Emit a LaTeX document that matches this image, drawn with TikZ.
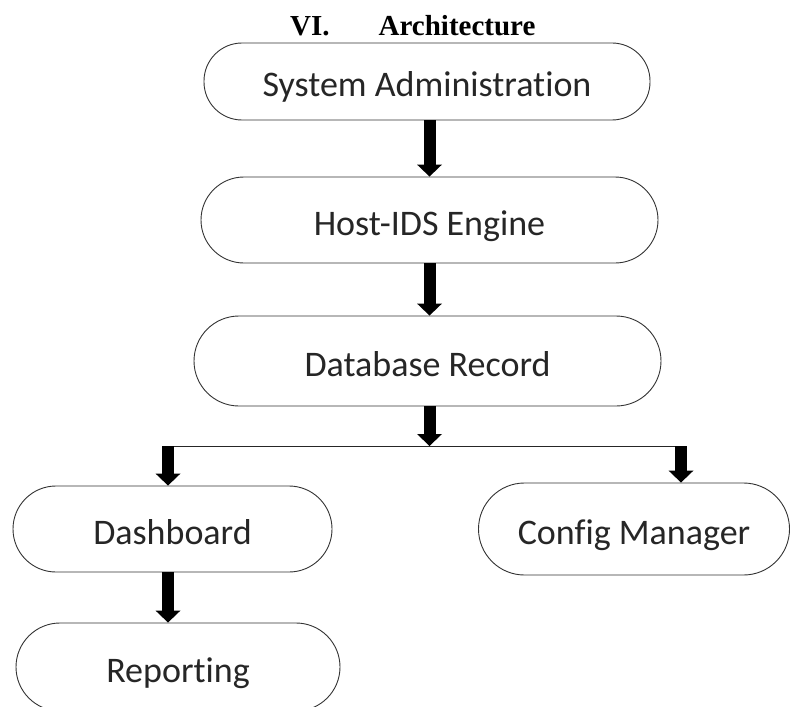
\documentclass[tikz,border=0pt]{standalone}
\usepackage{fontspec}
\setmainfont{Carlito}[Ligatures=NoCommon]
\newfontfamily\titlefont{Liberation Serif}
\usetikzlibrary{arrows.meta}
\tikzset{
  pill/.style={draw=black!80, line width=0.9pt, fill=white, rectangle, inner sep=0pt,
    font=\fontsize{36}{42}\selectfont, text=black!85, text height=36pt, text depth=6pt},
  blk/.style={draw=black, line width=12pt, -{Triangle[width=25pt,length=12pt,line width=0pt]}},
  thin/.style={draw=black!85, line width=1pt}
}
\begin{document}
\begin{tikzpicture}[x=1pt,y=1pt]
\useasboundingbox (0,0) rectangle (791,-706);
\clip (0,0) rectangle (791,-706);
\node[anchor=base west, inner sep=0pt, font=\titlefont\bfseries\fontsize{29}{34}\selectfont] (title) at (290,-36) {VI.\hspace{49pt}Architecture};
\node[pill, minimum width=446pt, minimum height=77pt, rounded corners=38pt] (b1) at (427,-81.5) {System Administration};
\node[pill, minimum width=457pt, minimum height=86pt, rounded corners=43pt] (b2) at (429.5,-220) {Host-IDS Engine};
\node[pill, minimum width=467pt, minimum height=90pt, rounded corners=45pt] (b3) at (427.5,-361) {Database Record};
\node[pill, minimum width=319pt, minimum height=86pt, rounded corners=43pt] (dash) at (172.5,-529) {Dashboard};
\node[pill, minimum width=311pt, minimum height=92pt, rounded corners=46pt] (conf) at (634,-529) {Config Manager};
\node[pill, minimum width=324pt, minimum height=88pt, rounded corners=44pt] (rep) at (178,-667) {Reporting};
\coordinate (jl) at (168,-446);
\coordinate (jr) at (681,-446);
\draw[blk] (b2.north |- b1.south) -- (b2.north);
\draw[blk] (b2.south) -- (b2.south |- b3.north);
\draw[thin] (jl) -- (jr);
\draw[blk] (b2.south |- b3.south) -- (b2.south |- jl);
\draw[blk] (jl) -- (jl |- dash.north);
\draw[blk] (jr) -- (jr |- conf.north);
\draw[blk] (dash.south -| jl) -- (jl |- rep.north);
\end{tikzpicture}
\end{document}
